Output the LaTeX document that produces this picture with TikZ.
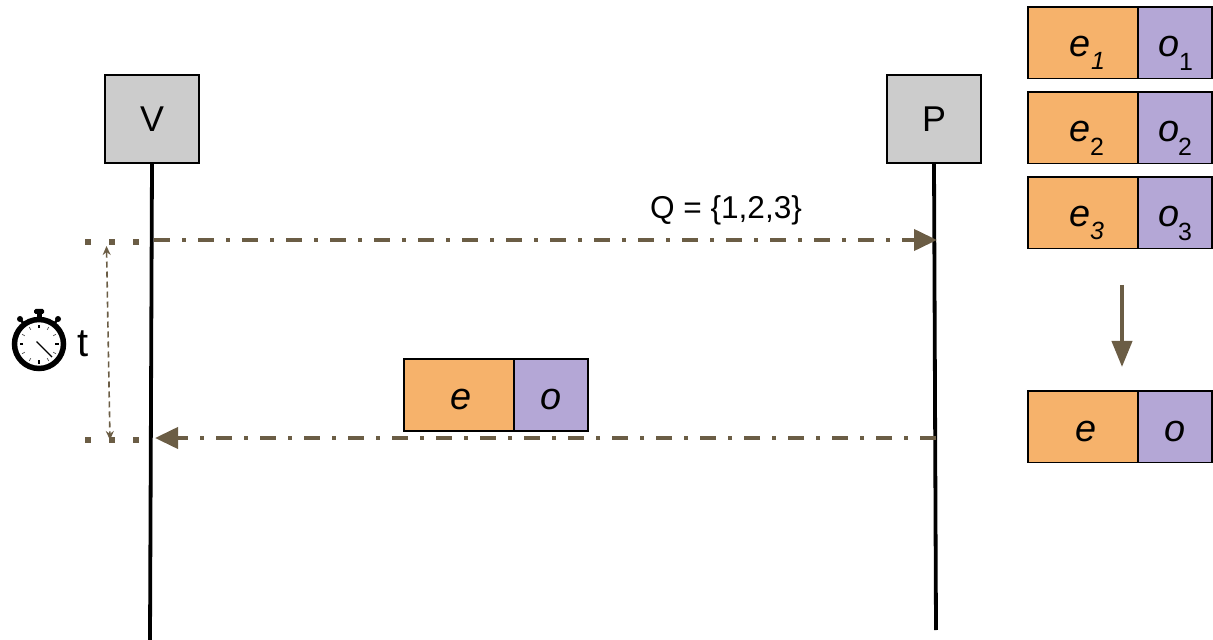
\documentclass[tikz,border=0pt]{standalone}
\usepackage{fontspec}
\setmainfont{Liberation Sans}
\usetikzlibrary{arrows.meta,positioning}
\definecolor{brn}{HTML}{6B5D45}
\definecolor{org}{HTML}{F6B26B}
\definecolor{pur}{HTML}{B4A7D6}
\definecolor{gry}{HTML}{CCCCCC}
\tikzset{
  actor/.style={draw=black,line width=1.8bp,fill=gry,minimum width=94bp,minimum height=88bp,inner sep=0pt,outer sep=0pt,anchor=north west,font=\fontsize{36}{36}\selectfont},
  ebox/.style={draw=black,line width=1.8bp,fill=org,minimum width=110bp,minimum height=71.5bp,inner sep=0pt,outer sep=0pt,anchor=north west},
  obox/.style={draw=black,line width=1.8bp,fill=pur,minimum width=74bp,minimum height=71.5bp,inner sep=0pt,outer sep=0pt,anchor=north west},
  big/.style={inner sep=0pt,anchor=base west,font=\fontsize{38}{38}\selectfont\itshape},
  subi/.style={inner sep=0pt,anchor=base west,font=\fontsize{25}{25}\selectfont\itshape},
  subr/.style={inner sep=0pt,anchor=base west,font=\fontsize{25}{25}\selectfont},
  life/.style={line width=3.8bp,black},
  msg/.style={line width=4bp,brn,dash pattern=on 16bp off 12bp on 4bp off 12bp,-{Triangle[length=23bp,width=21bp,sharp]}},
  dots/.style={line width=6bp,brn,dash pattern=on 6bp off 18bp},
  span/.style={line width=1.6bp,brn,dash pattern=on 6bp off 4bp,{Stealth[length=9bp,width=8bp,open]}-{Stealth[length=9bp,width=8bp,open]}},
  lbl/.style={inner sep=0pt,font=\fontsize{31.7}{32}\selectfont},
  tlbl/.style={inner sep=0pt,font=\fontsize{40}{40}\selectfont},
}
\begin{document}
\begin{tikzpicture}[x=1bp,y=-1bp]
\useasboundingbox (0,0) rectangle (1213,640);
% actors
\node[actor] (V) at (105,75) {V};
\node[actor] (P) at (887,75) {P};
\coordinate (Vend) at (150,640);
\coordinate (Pend) at (936,630);
\draw[life] (V.south) -- (Vend);
\draw[life] (P.south) -- (Pend);
% messages
\coordinate (qs) at (154,240);
\coordinate (qe) at (937,240);
\coordinate (rs) at (936,438);
\coordinate (re) at (155,438);
\draw[msg] (qs) -- (qe);
\draw[msg] (rs) -- (re);
\node[lbl,anchor=base] (Q) at (726,218.5) {Q = \{1,2,3\}};
% timer dots
\coordinate (d1) at (85,242);
\coordinate (d2) at (140,242);
\coordinate (d3) at (85,440);
\coordinate (d4) at (140,440);
\draw[dots] (d1) -- (d2);
\draw[dots] (d3) -- (d4);
\coordinate (s1) at (106.5,246);
\coordinate (s2) at (110,440);
\draw[span] (s1) -- (s2);
% stopwatch
\begin{scope}[shift={(39,344)}]
  \fill[black] (-2.5,-30) rectangle (2.5,-22);
  \fill[black,rounded corners=1.5bp] (-5,-35) rectangle (5,-30);
  \draw[black,line width=2.5bp] (-15,-20) -- (-19,-25);
  \draw[black,line width=2.5bp] (15,-20) -- (19,-25);
  \fill[black] (-19,-25) circle (3bp);
  \fill[black] (19,-25) circle (3bp);
  \draw[black,line width=5.5bp,fill=white] (0,0) circle (24.5bp);
  \foreach \a in {0,90,180,270} \draw[black,line width=1.6bp] (\a:16) -- (\a:19.5);
  \foreach \a in {30,60,120,150,210,240,300,330} \draw[black!70,line width=.7bp] (\a:16.5) -- (\a:19.5);
  \draw[black,line width=1.2bp] (-2.5,-2.5) -- (13,13);
\end{scope}
\node[tlbl,anchor=base] (t) at (83,357) {t};
% middle packet
\node[ebox,minimum height=72bp] (em) at (404,359) {};
\node[obox,minimum height=72bp] (om) at (514,359) {};
\node[big,anchor=base] (emt) at (461.5,409) {e};
\node[big,anchor=base] (omt) at (551,409) {o};
% right stack
\foreach \y/\eb/\ob in {7/e1/o1,92/e2/o2,177/e3/o3}{
  \node[ebox] (\eb) at (1028,\y) {};
  \node[obox] (\ob) at (1138,\y) {};
}
\node[big] (t1) at (1069,57) {e};
\node[subi] (t2) at (1091,70) {1};
\node[big] (t3) at (1158,57) {o};
\node[subr] (t4) at (1179,71) {1};
\node[big] (t5) at (1069,142) {e};
\node[subr] (t6) at (1090,156) {2};
\node[big] (t7) at (1158,142) {o};
\node[subr] (t8) at (1178,156) {2};
\node[big] (t9) at (1069,227) {e};
\node[subi] (t10) at (1090,240) {3};
\node[big] (t11) at (1158,227) {o};
\node[subr] (t12) at (1178,241) {3};
% arrow and result
\node[ebox] (er) at (1028,391) {};
\node[obox] (or) at (1138,391) {};
\node[big,anchor=base] (ert) at (1086,441) {e};
\node[big,anchor=base] (ort) at (1175,441) {o};
\coordinate (as) at (1122,285);
\coordinate (ae) at (1122,367);
\draw[line width=4bp,brn,-{Triangle[length=26bp,width=20bp,sharp]}] (as) -- (ae);
\end{tikzpicture}
\end{document}
